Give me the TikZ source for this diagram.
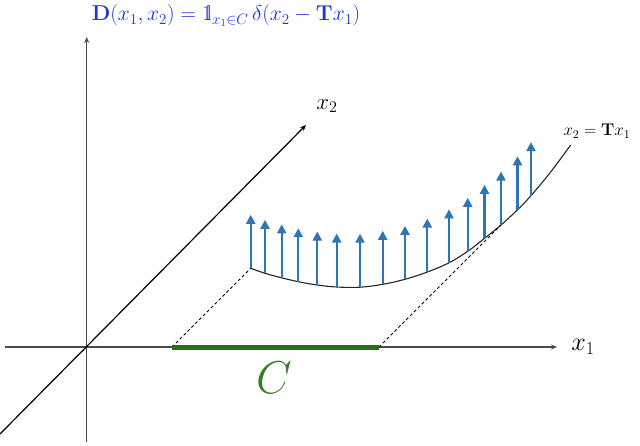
\RequirePackage{fix-cm}
\documentclass[tikz,border=0pt]{standalone}
\usepackage{amsmath,amssymb}
\usetikzlibrary{arrows.meta}
\definecolor{titleblue}{RGB}{28,52,220}
\definecolor{arrowblue}{RGB}{46,117,182}
\definecolor{bargreen}{RGB}{45,105,30}
\definecolor{cgreen}{RGB}{55,125,40}
\definecolor{axisgray}{RGB}{75,75,75}
\newcommand{\indic}{\mathrm{1\mkern-4.3mu l}}
\tikzset{
  axisline/.style={line width=1.3pt, draw=axisgray, -{Stealth[length=6pt,width=5pt]}},
  diagline/.style={line width=1.2pt, draw=black, -{Stealth[length=6pt,width=5pt]}},
  spike/.style={line width=2.2pt, draw=arrowblue, -{Triangle[length=9pt,width=9pt]}},
  proj/.style={line width=0.9pt, dash pattern=on 3pt off 2.5pt},
  curveline/.style={line width=1.1pt, draw=black!85},
}
\begin{document}
\begin{tikzpicture}[x=1pt,y=-1pt]
\useasboundingbox (0,0) rectangle (640,445);
% axes
\coordinate (O) at (86.7,346.7);
\coordinate (xstart) at (5,347);
\coordinate (xend) at (557,347);
\coordinate (ybot) at (86.7,442);
\coordinate (ytop) at (86.7,37);
\coordinate (dstart) at (0,434);
\coordinate (dend) at (306,125);
\draw[axisline] (xstart) -- (xend);
\draw[axisline] (ybot) -- (ytop);
\draw[diagline] (dstart) -- (dend);
\node[font=\fontsize{26}{30}\selectfont] (lx1) at (583,347) {$x_1$};
\node[font=\fontsize{23}{27}\selectfont] (lx2) at (327,106) {$x_2$};
% title
\node[font=\fontsize{21.5}{25}\selectfont, text=titleblue, inner sep=0pt] (title) at (226,15.5)
  {$\mathbf{D}(x_1,x_2)=\indic_{x_1\in C}\,\delta(x_2-\mathbf{T}x_1)$};
% curve points
\foreach \i/\px/\py in {1/250.7/268.3, 2/265/273.3, 3/281.7/277.8, 4/298.3/281.7,
  5/317.3/285.0, 6/336.7/287.0, 7/360/287.2, 8/382.7/284.3, 9/405/279.3,
  10/427.3/272.0, 11/449/262.8, 12/467.7/251.3, 13/484.5/238.3, 14/501/225.0,
  15/517.5/209.8, 16/531/195.6}
  {\coordinate (p\i) at (\px,\py);}
\coordinate (pend) at (570.7,145);
\draw[curveline] plot[smooth, tension=0.6] coordinates {
  (250.7,268.3) (265,273.3) (281.7,277.8) (298.3,281.7) (317.3,285.0) (336.7,287.0)
  (360,287.2) (382.7,284.3) (405,279.3) (427.3,272.0) (449,262.8) (467.7,251.3)
  (484.5,238.3) (501,225.0) (517.5,209.8) (531,195.6) (550,172.8) (570.7,145)};
\node[font=\fontsize{17}{20}\selectfont, anchor=west] (lcurve) at (560,131) {$x_2=\mathbf{T}x_1$};
% interval C
\coordinate (ca) at (172,347);
\coordinate (cb) at (379,347);
\draw[proj] (ca) -- (p1);
\draw[proj] (cb) -- (p14);
\draw[line width=5pt, draw=bargreen] (ca) -- (cb);
\node[font=\fontsize{46}{50}\selectfont, text=cgreen] (lC) at (274,378) {$C$};
% spikes
\foreach \i in {1,...,16}
  {\draw[spike] (p\i) -- ++(0,-53.5);}
\end{tikzpicture}
\end{document}
